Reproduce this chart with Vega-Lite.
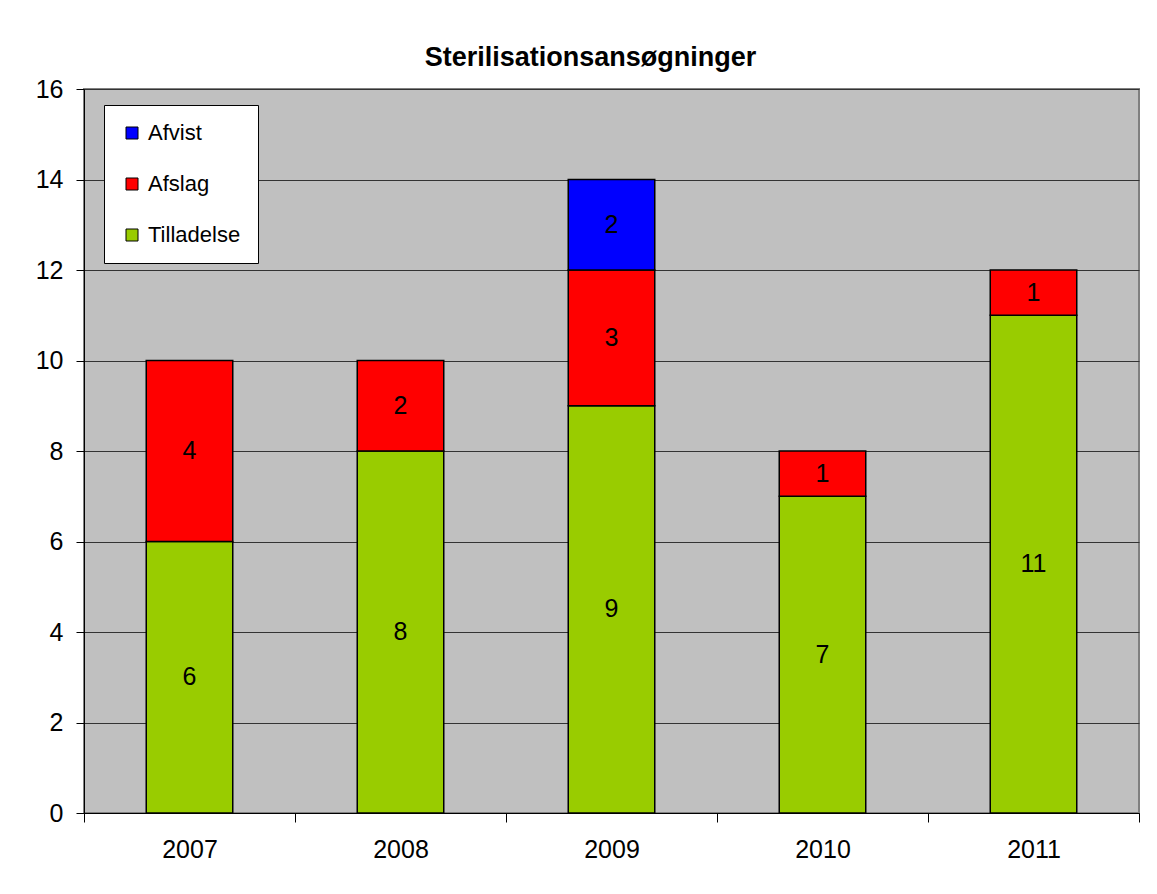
{
  "$schema": "https://vega.github.io/schema/vega-lite/v6.json",
  "width": 1055,
  "height": 724,
  "autosize": {"type": "none"},
  "padding": {"left": 84, "top": 89, "right": 18, "bottom": 81},
  "background": "white",
  "title": {
    "text": "Sterilisationsansøgninger",
    "fontSize": 27,
    "fontWeight": "bold",
    "font": "Liberation Sans",
    "color": "black",
    "anchor": "middle",
    "offset": 5,
    "dx": -21
  },
  "config": {
    "view": {"fill": "#C0C0C0", "stroke": "#808080", "strokeWidth": 2},
    "font": "Liberation Sans"
  },
  "data": {
    "values": [
      {"year": "2007", "type": "Tilladelse", "rank": 1, "value": 6},
      {"year": "2007", "type": "Afslag", "rank": 2, "value": 4},
      {"year": "2008", "type": "Tilladelse", "rank": 1, "value": 8},
      {"year": "2008", "type": "Afslag", "rank": 2, "value": 2},
      {"year": "2009", "type": "Tilladelse", "rank": 1, "value": 9},
      {"year": "2009", "type": "Afslag", "rank": 2, "value": 3},
      {"year": "2009", "type": "Afvist", "rank": 3, "value": 2},
      {"year": "2010", "type": "Tilladelse", "rank": 1, "value": 7},
      {"year": "2010", "type": "Afslag", "rank": 2, "value": 1},
      {"year": "2011", "type": "Tilladelse", "rank": 1, "value": 11},
      {"year": "2011", "type": "Afslag", "rank": 2, "value": 1}
    ]
  },
  "transform": [
    {"stack": "value", "groupby": ["year"], "sort": [{"field": "rank", "order": "ascending"}], "as": ["y0", "y1"]},
    {"calculate": "(datum.y0 + datum.y1) / 2", "as": "mid"}
  ],
  "encoding": {
    "x": {
      "field": "year",
      "type": "nominal",
      "scale": {"paddingInner": 0, "paddingOuter": 0},
      "axis": {
        "title": null,
        "labelAngle": 0,
        "labelFontSize": 25,
        "labelColor": "black",
        "labelPadding": 15,
        "tickBand": "extent",
        "tickSize": 9,
        "tickColor": "black",
        "domainColor": "black",
        "grid": false
      }
    }
  },
  "layer": [
    {
      "mark": {"type": "bar", "width": {"band": 0.41}, "stroke": "black", "strokeWidth": 1.5},
      "encoding": {
        "y": {
          "field": "y0",
          "type": "quantitative",
          "scale": {"domain": [0, 16]},
          "axis": {
            "title": null,
            "values": [0, 2, 4, 6, 8, 10, 12, 14, 16],
            "grid": true,
            "gridColor": "#333333",
            "gridWidth": 1,
            "domainColor": "black",
            "tickColor": "black",
            "tickSize": 8,
            "labelFontSize": 25,
            "labelColor": "black",
            "labelPadding": 13
          }
        },
        "y2": {"field": "y1"},
        "color": {
          "field": "type",
          "type": "nominal",
          "scale": {"domain": ["Afvist", "Afslag", "Tilladelse"], "range": ["#0000FF", "#FF0000", "#99CC00"]},
          "legend": {
            "orient": "none",
            "legendX": 20,
            "legendY": 16,
            "title": null,
            "fillColor": "white",
            "strokeColor": "black",
            "padding": 17,
            "symbolType": "square",
            "symbolSize": 144,
            "symbolStrokeColor": "black",
            "symbolStrokeWidth": 1,
            "symbolOpacity": 1,
            "labelFontSize": 22,
            "labelColor": "black",
            "labelOffset": 5,
            "rowPadding": 29
          }
        }
      }
    },
    {
      "mark": {"type": "text", "fontSize": 25, "color": "black", "baseline": "middle"},
      "encoding": {
        "y": {"field": "mid", "type": "quantitative"},
        "text": {"field": "value", "type": "quantitative"}
      }
    }
  ]
}
